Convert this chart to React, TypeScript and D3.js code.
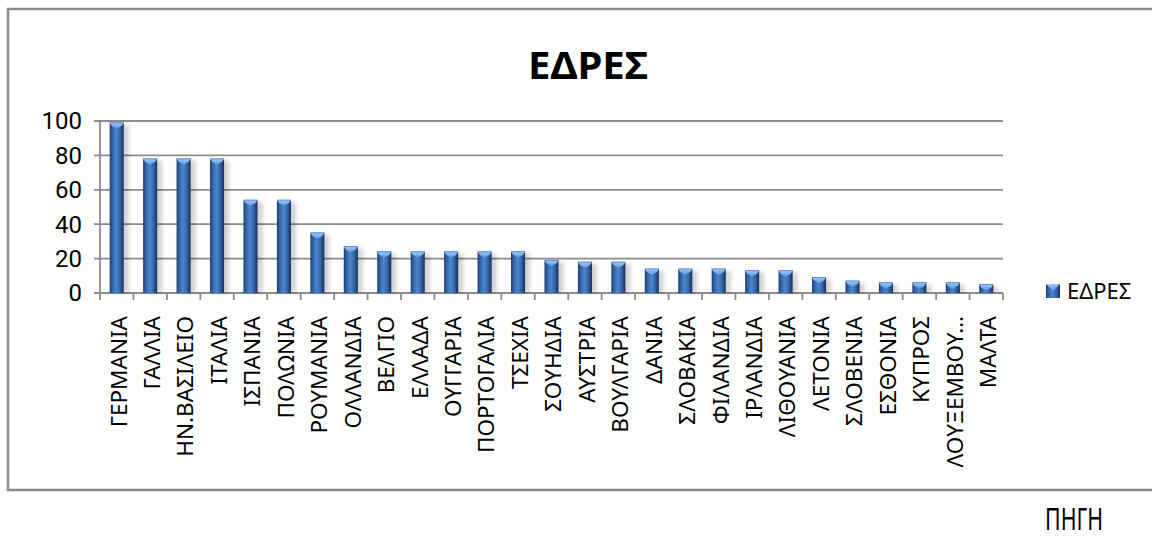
import React from "react";
import * as d3 from "d3";

const categories = [
  "ΓΕΡΜΑΝΙΑ", "ΓΑΛΛΙΑ", "ΗΝ.ΒΑΣΙΛΕΙΟ", "ΙΤΑΛΙΑ", "ΙΣΠΑΝΙΑ", "ΠΟΛΩΝΙΑ", "ΡΟΥΜΑΝΙΑ",
  "ΟΛΛΑΝΔΙΑ", "ΒΕΛΓΙΟ", "ΕΛΛΑΔΑ", "ΟΥΓΓΑΡΙΑ", "ΠΟΡΤΟΓΑΛΙΑ", "ΤΣΕΧΙΑ", "ΣΟΥΗΔΙΑ",
  "ΑΥΣΤΡΙΑ", "ΒΟΥΛΓΑΡΙΑ", "ΔΑΝΙΑ", "ΣΛΟΒΑΚΙΑ", "ΦΙΛΑΝΔΙΑ", "ΙΡΛΑΝΔΙΑ", "ΛΙΘΟΥΑΝΙΑ",
  "ΛΕΤΟΝΙΑ", "ΣΛΟΒΕΝΙΑ", "ΕΣΘΟΝΙΑ", "ΚΥΠΡΟΣ", "ΛΟΥΞΕΜΒΟΥ…", "ΜΑΛΤΑ",
];
const seats = [99, 78, 78, 78, 54, 54, 35, 27, 24, 24, 24, 24, 24, 19, 18, 18, 14, 14, 14, 13, 13, 9, 7, 6, 6, 6, 5];
const yTicks = [0, 20, 40, 60, 80, 100];
const title = "ΕΔΡΕΣ";
const seriesName = "ΕΔΡΕΣ";
const sourceText = "ΠΗΓΗ";

const W = 1152;
const H = 540;
const left = 100;
const right = 1003;
const y0 = 293;
const y1 = 121;

export default function App() {
  const x = d3.scaleBand<string>().domain(categories).range([left, right]).paddingInner(0.58).paddingOuter(0.29);
  const y = d3.scaleLinear().domain([0, 100]).range([y0, y1]);
  const step = x.step();
  const bw = x.bandwidth();
  const boundaries = d3.range(categories.length + 1).map((i) => left + i * step);
  const numFont = "'Liberation Sans Narrow', 'Arial Narrow', Roboto, sans-serif";
  const txtFont = "'Noto Sans', 'Open Sans', sans-serif";

  return (
    <svg width={W} height={H} style={{ position: "absolute", left: 0, top: 0, background: "#fff" }}>
      <defs>
        <linearGradient id="barGrad" x1="0" x2="1" y1="0" y2="0">
          <stop offset="0" stopColor="#1d3c6b" />
          <stop offset="0.18" stopColor="#3063a6" />
          <stop offset="0.45" stopColor="#4d84cc" />
          <stop offset="0.7" stopColor="#386bb0" />
          <stop offset="1" stopColor="#172f57" />
        </linearGradient>
        <linearGradient id="capGrad" x1="0" x2="0" y1="0" y2="1">
          <stop offset="0" stopColor="#9cc8f4" />
          <stop offset="1" stopColor="#5f97dc" />
        </linearGradient>
        <filter id="shadow" x="-50%" y="-10%" width="200%" height="120%">
          <feGaussianBlur stdDeviation="2" />
        </filter>
      </defs>

      {/* chart border */}
      <rect x={8} y={9} width={1170} height={481} fill="#fff" stroke="#8a8a8a" strokeWidth={2.5} />

      {/* title */}
      <text x={588} y={79} textAnchor="middle" fontFamily={txtFont} fontWeight="bold" fontSize={37} fill="#000" textLength={120} lengthAdjust="spacingAndGlyphs">
        {title}
      </text>

      {/* gridlines */}
      {yTicks.map((t) => (
        <line key={"g" + t} x1={left - 6} x2={right} y1={y(t)} y2={y(t)} stroke="#8c8c8c" strokeWidth={1.8} />
      ))}
      {/* y axis */}
      <line x1={left} x2={left} y1={y(100)} y2={y0} stroke="#8c8c8c" strokeWidth={1.8} />
      {/* x ticks */}
      {boundaries.map((bx, i) => (
        <line key={"t" + i} x1={bx} x2={bx} y1={y0} y2={y0 + 7} stroke="#8c8c8c" strokeWidth={1.8} />
      ))}

      {/* y tick labels */}
      {yTicks.map((t) => (
        <text key={"l" + t} x={82} y={y(t)} dy="0.35em" textAnchor="end" fontFamily={numFont} fontSize={24} fill="#000">
          {t}
        </text>
      ))}

      {/* bars */}
      {categories.map((c, i) => {
        const bx = x(c)!;
        const by = y(seats[i]);
        const h = y0 - by;
        return (
          <g key={c}>
            <rect x={bx + 2} y={by + 2} width={bw + 3} height={h - 2} fill="#000" opacity={0.18} filter="url(#shadow)" />
            <rect x={bx} y={by} width={bw} height={h} fill="url(#barGrad)" />
            <polygon points={`${bx},${by} ${bx + bw},${by} ${bx + bw - 2},${by + 3} ${bx + bw / 2},${by + 6} ${bx + 2},${by + 3}`} fill="url(#capGrad)" />
            <line x1={bx} x2={bx + bw} y1={by} y2={by} stroke="#5b8fd6" strokeWidth={1} />
          </g>
        );
      })}

      {/* category labels */}
      {categories.map((c) => {
        const cx = x(c)! + bw / 2 + 2;
        return (
          <text key={"c" + c} transform={`translate(${cx},316) rotate(-90)`} textAnchor="end" dy="0.35em" fontFamily={txtFont} fontSize={22.5} fill="#000">
            {c}
          </text>
        );
      })}

      {/* legend */}
      <rect x={1046} y={284} width={14} height={14} fill="url(#barGrad)" />
      <polygon points="1046,284 1060,284 1053,291" fill="url(#capGrad)" />
      <text x={1067} y={291} dy="0.35em" fontFamily={txtFont} fontSize={22} fill="#000">
        {seriesName}
      </text>

      {/* source */}
      <text x={1045} y={530} fontFamily={txtFont} fontSize={30} fill="#000" textLength={58} lengthAdjust="spacingAndGlyphs">
        {sourceText}
      </text>
    </svg>
  );
}
